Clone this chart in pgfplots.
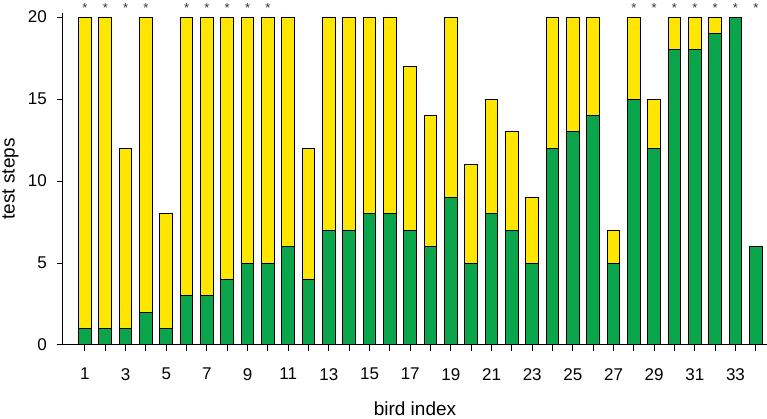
\documentclass[border=0pt]{standalone}
\usepackage{pgfplots}
\pgfplotsset{compat=1.18}
\usepackage{pgfplotstable}
\usepackage{fontspec}
\setmainfont{Liberation Sans}
\definecolor{byellow}{HTML}{FFE600}
\definecolor{bgreen}{HTML}{0AA54A}
\pgfplotstableread{
idx green total
1 1 20
2 1 20
3 1 12
4 2 20
5 1 8
6 3 20
7 3 20
8 4 20
9 5 20
10 5 20
11 6 20
12 4 12
13 7 20
14 7 20
15 8 20
16 8 20
17 7 17
18 6 14
19 9 20
20 5 11
21 8 15
22 7 13
23 5 9
24 12 20
25 13 20
26 14 20
27 5 7
28 15 20
29 12 15
30 18 20
31 18 20
32 19 20
33 20 20
34 6 6
}\birds
\pgfplotstableread{
idx y
1 20
2 20
3 20
4 20
6 20
7 20
8 20
9 20
10 20
28 20
29 20
30 20
31 20
32 20
33 20
34 20
}\stars
\begin{document}
\begin{tikzpicture}
\begin{axis}[
  name=ax,
  scale only axis, width=704pt, height=332pt,
  xmin=-0.08, xmax=34.55, ymin=0, ymax=20.25,
  axis lines*=left,
  axis line style={line width=1pt, black},
  every tick/.style={line width=1pt, black},
  tick align=outside,
  major tick length=6pt,
  xtick={1,...,34},
  xticklabels={1,,3,,5,,7,,9,,11,,13,,15,,17,,19,,21,,23,,25,,27,,29,,31,,33,},
  ytick={0,5,10,15,20},
  /pgf/number format/assume math mode=true,
  ticklabel style={font=\fontsize{17}{18}\selectfont, inner sep=0pt},
  xticklabel style={anchor=north, yshift=-17pt},
  yticklabel style={anchor=east, xshift=-10pt},
  xlabel={bird index},
  ylabel={test steps},
  xlabel style={font=\fontsize{19}{20}\selectfont, at={(axis description cs:0.5,0)}, anchor=base, yshift=-71pt, inner sep=0pt},
  ylabel style={font=\fontsize{19}{20}\selectfont, at={(axis description cs:-0.0866,0.5)}, anchor=north, inner sep=0pt},
  clip=false,
]
\addplot[ybar, bar width=0.62, bar shift=0pt, fill=byellow, draw=black, line width=1pt] table[x=idx, y=total] {\birds};
\addplot[ybar, bar width=0.62, bar shift=0pt, fill=bgreen, draw=black, line width=1pt] table[x=idx, y=green] {\birds};
\addplot[draw=none, mark=none, nodes near coords={*},
  every node near coord/.style={anchor=base, yshift=4.5pt, inner sep=0pt, font=\fontsize{13}{13}\selectfont, text=black!80}]
  table[x=idx, y=y] {\stars};
\end{axis}
\pgfresetboundingbox
\path[use as bounding box] ([xshift=-63pt,yshift=-74pt]ax.south west) rectangle ([yshift=13pt]ax.north east);
\end{tikzpicture}
\end{document}
